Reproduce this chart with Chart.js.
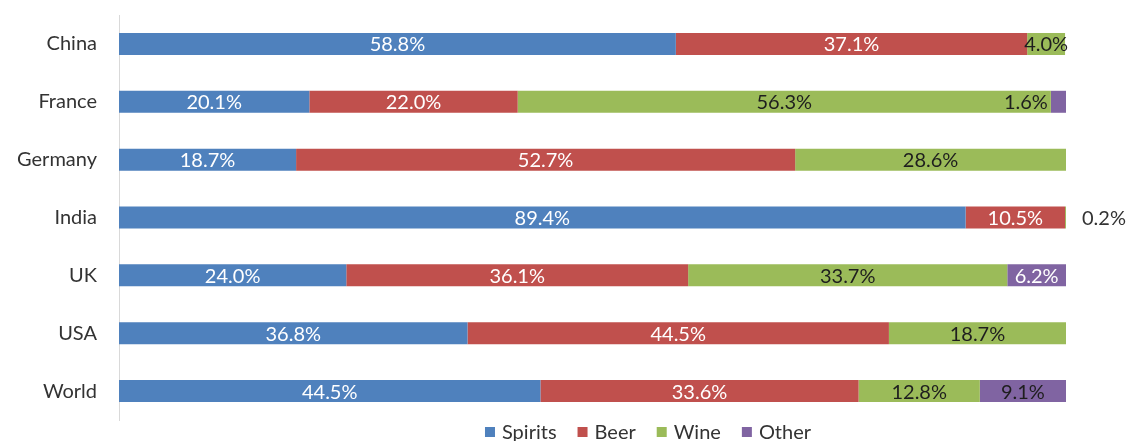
<!DOCTYPE html>
<html lang="en">
<head>
    <meta charset="UTF-8">
    <title>Alcohol consumption by type</title>
    <script src="https://cdn.jsdelivr.net/npm/chart.js@4.4.1/dist/chart.umd.min.js"></script>
    <style>
        html, body { margin: 0; padding: 0; background: #fff; }
        .wrap { width: 1129px; height: 441px; position: relative; }
    </style>
</head>
<body>
    <div class="wrap"><canvas id="chart"></canvas></div>

    <script>
        const countries = ["China", "France", "Germany", "India", "UK", "USA", "World"];
        const seriesNames = ["Spirits", "Beer", "Wine", "Other"];
        const spirits = [58.8, 20.1, 18.7, 89.4, 24.0, 36.8, 44.5];
        const beer    = [37.1, 22.0, 52.7, 10.5, 36.1, 44.5, 33.6];
        const wine    = [4.0, 56.3, 28.6, 0.2, 33.7, 18.7, 12.8];
        const other   = [0, 1.6, 0, 0, 6.2, 0, 9.1];

        const colors = ["#4F81BD", "#C0504D", "#9BBB59", "#8064A2"];
        const FONT = "Lato, 'Open Sans', sans-serif";
        const FS = 20;

        // label colour per series (Other varies like in the source)
        const labelColors = ["#ffffff", "#ffffff", "#1e1e1e", ["#1e1e1e", "#1e1e1e", "#1e1e1e", "#1e1e1e", "#ffffff", "#1e1e1e", "#1e1e1e"]];

        const segLabels = {
            id: "segLabels",
            afterDatasetsDraw(chart) {
                const ctx = chart.ctx;
                ctx.save();
                ctx.font = FS + "px " + FONT;
                ctx.textBaseline = "middle";
                chart.data.datasets.forEach((ds, di) => {
                    const meta = chart.getDatasetMeta(di);
                    meta.data.forEach((bar, i) => {
                        const v = ds.data[i];
                        if (!v) return;
                        const txt = v.toFixed(1) + "%";
                        let c = labelColors[di];
                        if (Array.isArray(c)) c = c[i];
                        const left = Math.min(bar.base, bar.x);
                        const right = Math.max(bar.base, bar.x);
                        if (v < 1) {
                            ctx.fillStyle = "#333";
                            ctx.textAlign = "left";
                            ctx.fillText(txt, chart.chartArea.right + 16, bar.y + 1);
                        } else if (v < 3 && di === 3) {
                            ctx.fillStyle = "#1e1e1e";
                            ctx.textAlign = "right";
                            ctx.fillText(txt, left - 3, bar.y + 1);
                        } else {
                            ctx.fillStyle = c;
                            ctx.textAlign = "center";
                            ctx.fillText(txt, (left + right) / 2, bar.y + 1);
                        }
                    });
                });
                ctx.restore();
            }
        };

        const bottomLegend = {
            id: "bottomLegend",
            afterDraw(chart) {
                const ctx = chart.ctx;
                ctx.save();
                ctx.font = FS + "px " + FONT;
                ctx.textBaseline = "middle";
                ctx.textAlign = "left";
                const box = 10, gap = 7, spacing = 21;
                const widths = seriesNames.map(n => box + gap + ctx.measureText(n).width);
                const total = widths.reduce((a, b) => a + b, 0) + spacing * (widths.length - 1);
                let x = 648 - total / 2;
                const y = 432;
                seriesNames.forEach((n, i) => {
                    ctx.fillStyle = colors[i];
                    ctx.fillRect(x, y - box / 2, box, box);
                    ctx.fillStyle = "#333";
                    ctx.fillText(n, x + box + gap, y + 1);
                    x += widths[i] + spacing;
                });
                ctx.restore();
            }
        };

        const datasets = [spirits, beer, wine, other].map((d, i) => ({
            label: seriesNames[i],
            data: d,
            backgroundColor: colors[i],
            borderWidth: 0,
            barPercentage: 0.38,
            categoryPercentage: 1
        }));

        new Chart(document.getElementById("chart"), {
            type: "bar",
            data: { labels: countries, datasets: datasets },
            options: {
                indexAxis: "y",
                responsive: true,
                maintainAspectRatio: false,
                animation: false,
                layout: { padding: { top: 15, right: 63, bottom: 21, left: 0 } },
                plugins: {
                    legend: { display: false },
                    tooltip: { enabled: false }
                },
                scales: {
                    x: { stacked: true, min: 0, max: 100, display: false },
                    y: {
                        stacked: true,
                        grid: { display: false, drawTicks: false },
                        border: { display: true, color: "#d9d9d9", width: 1 },
                        ticks: { color: "#333", font: { family: FONT, size: FS }, padding: 22 },
                        afterFit(scale) {
                            scale.width = 119;
                            scale.paddingTop = 0;
                            scale.paddingBottom = 0;
                        }
                    }
                }
            },
            plugins: [segLabels, bottomLegend]
        });
    </script>
</body>
</html>
